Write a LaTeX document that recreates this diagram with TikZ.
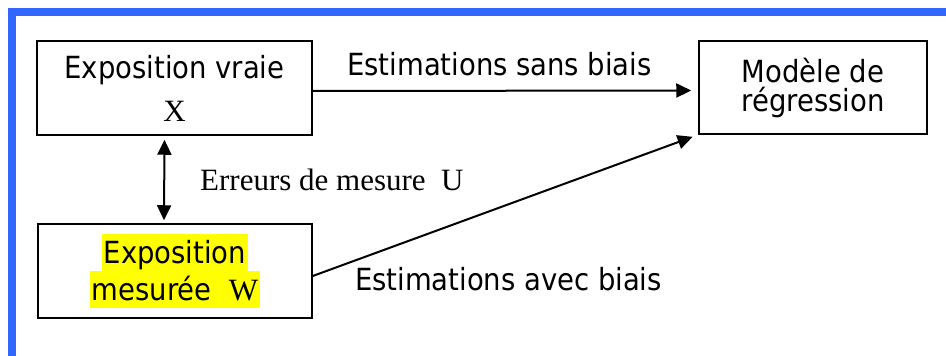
\documentclass[tikz,border=0pt]{standalone}
\usepackage{fontspec}
\setmainfont{DejaVu Sans Condensed}
\newfontfamily\seriffont{Liberation Serif}
\usetikzlibrary{arrows.meta}
\definecolor{frameblue}{RGB}{51,102,255}
\definecolor{hlyellow}{RGB}{255,255,0}
\newcommand\hlt[1]{{\setlength{\fboxsep}{0pt}\colorbox{hlyellow}{\rule[-8pt]{0pt}{37pt}\hspace{2pt}#1\hspace{2pt}}}}
\begin{document}
\begin{tikzpicture}[x=1pt,y=-1pt,
  box/.style={draw,line width=1.5pt,inner sep=0pt,align=center,
    font=\fontsize{30.5}{33}\selectfont},
  arr/.style={line width=2pt,-{Triangle[length=15pt,width=14pt]}},
  dblarr/.style={line width=2pt,{Triangle[length=15pt,width=14pt]}-{Triangle[length=15pt,width=14pt]}},
  lbl/.style={inner sep=0pt,font=\fontsize{30.5}{33}\selectfont}]
\useasboundingbox (0,0) rectangle (946,356);
\fill[white] (0,0) rectangle (946,356);
\draw[frameblue,line width=8pt] (11.5,356) -- (11.5,12) -- (946,12);
\node[box,minimum width=275pt,minimum height=94pt] (X) at (174.5,88)
  {Exposition vraie\\[10pt]{\seriffont\fontsize{31}{33}\selectfont X}};
\node[box,minimum width=274pt,minimum height=94pt,font=\fontsize{30.5}{37}\selectfont] (W) at (175,271)
  {\hlt{Exposition}\\\hlt{mesurée\ \ {\seriffont\fontsize{31}{33}\selectfont W}}};
\node[box,minimum width=228pt,minimum height=93pt,font=\fontsize{30.5}{29}\selectfont] (M) at (813,87.5)
  {Modèle de\\régression};
\draw[arr,shorten >=7pt] ([yshift=-3pt]X.east) -- ([yshift=-3pt]M.west);
\draw[arr,shorten >=6pt] ([yshift=-5pt]W.east) -- (M.south west);
\draw[dblarr,shorten <=4pt,shorten >=3pt] ([xshift=-10pt]X.south) -- ([xshift=-11pt]W.north);
\node[lbl,anchor=base] (l1) at (499.5,75) {Estimations sans biais};
\node[lbl,anchor=base west,font=\seriffont\fontsize{31}{36}\selectfont] (l2) at (200,190) {Erreurs de mesure\ \ U};
\node[lbl,anchor=base west] (l3) at (355,290) {Estimations avec biais};
\end{tikzpicture}
\end{document}
